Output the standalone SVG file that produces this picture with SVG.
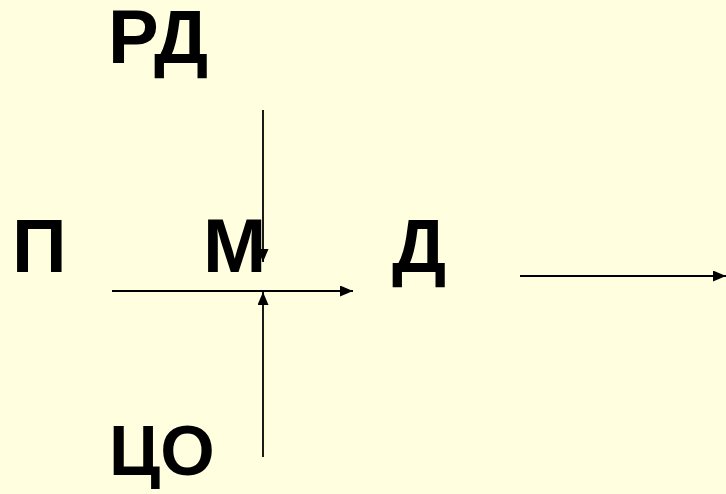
<svg xmlns="http://www.w3.org/2000/svg" width="726" height="494" viewBox="0 0 726 494">
  <style>
    .lbl { font-family: "Liberation Sans", Arial, sans-serif; font-weight: bold; font-size: 76px; fill: #000; }
    .small { font-size: 70px; }
    .conn { stroke: #000; stroke-width: 1.8; fill: none; marker-end: url(#arrow); }
  </style>
  <defs>
    <marker id="arrow" markerUnits="userSpaceOnUse" markerWidth="14" markerHeight="12" refX="13" refY="5.5" orient="auto">
      <path d="M0,0 L13,5.5 L0,11 z" fill="#000"/>
    </marker>
  </defs>
  <rect width="726" height="494" fill="#FFFFE0"/>
  <g id="node-rd"><text class="lbl" x="108" y="63">РД</text></g>
  <g id="node-p"><text class="lbl" x="12" y="272">П</text></g>
  <g id="node-m"><text class="lbl" x="203" y="272">М</text></g>
  <g id="node-d"><text class="lbl" x="392" y="272">Д</text></g>
  <g id="node-co"><text class="lbl small" x="109" y="475">ЦО</text></g>
  <g id="connectors">
    <line class="conn" x1="263" y1="110" x2="263" y2="262"/>
    <line class="conn" x1="112" y1="291" x2="353" y2="291"/>
    <line class="conn" x1="263" y1="457" x2="263" y2="292"/>
    <line class="conn" x1="520" y1="276" x2="726" y2="276"/>
  </g>
</svg>
